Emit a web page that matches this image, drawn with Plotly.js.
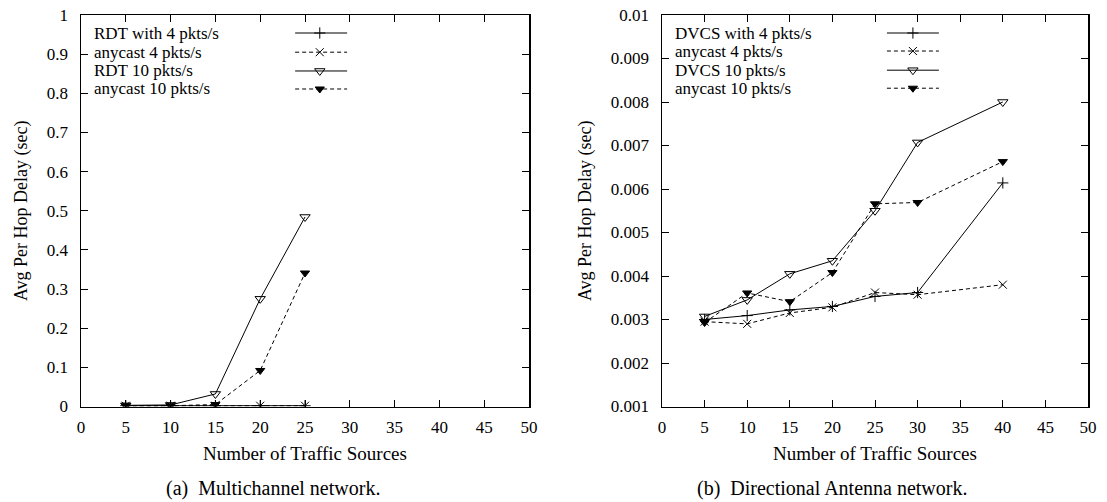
<!DOCTYPE html>
<html>
<head>
<meta charset="utf-8">
<script src="https://cdn.plot.ly/plotly-3.0.1.min.js"></script>
<style>html,body{margin:0;padding:0;background:#fff}#chart{width:1107px;height:502px}</style>
</head>
<body>
<div id="chart"></div>
<script>
// ---- data: (a) Multichannel network ----
var xA = [5, 10, 15, 20, 25];
var rdt4 = [0.002, 0.002, 0.002, 0.002, 0.002];
var anycastA4 = [0.002, 0.002, 0.002, 0.002, 0.002];
var rdt10 = [0.003, 0.004, 0.032, 0.275, 0.484];
var anycastA10 = [0.002, 0.002, 0.005, 0.092, 0.341];
var namesA = ["RDT with 4 pkts/s", "anycast 4 pkts/s", "RDT 10 pkts/s", "anycast 10 pkts/s"];

// ---- data: (b) Directional Antenna network ----
var xB = [5, 10, 15, 20, 25, 30, 40];
var dvcs4 = [0.00300, 0.00309, 0.00322, 0.00330, 0.00353, 0.00362, 0.00614];
var anycastB4 = [0.00295, 0.00290, 0.00315, 0.00328, 0.00362, 0.00357, 0.00380];
var dvcs10 = [0.00307, 0.00345, 0.00405, 0.00435, 0.00550, 0.00707, 0.00800];
var anycastB10 = [0.00293, 0.00361, 0.00341, 0.00408, 0.00566, 0.00569, 0.00663];
var namesB = ["DVCS with 4 pkts/s", "anycast 4 pkts/s", "DVCS 10 pkts/s", "anycast 10 pkts/s"];

var xTicks = [0, 5, 10, 15, 20, 25, 30, 35, 40, 45, 50];
var xTitle = "Number of Traffic Sources";
var yTitle = "Avg Per Hop Delay (sec)";
var captionA = "(a)  Multichannel network.";
var captionB = "(b)  Directional Antenna network.";

// styles
var FONT = "Liberation Serif, Times New Roman, serif";
var styles = [
  {dash: "solid", symbol: "cross-thin-open", size: 8},
  {dash: "4px,3px", symbol: "x-thin-open", size: 8},
  {dash: "solid", symbol: "triangle-down-open", size: 9},
  {dash: "4px,3px", symbol: "triangle-down", size: 8}
];

function series(x, y, st, xa, ya) {
  return {
    x: x, y: y, xaxis: xa, yaxis: ya, type: "scatter", mode: "lines+markers",
    showlegend: false, hoverinfo: "skip",
    line: {color: "#000", width: 1, dash: st.dash},
    marker: {symbol: st.symbol, size: st.size, color: "#000", line: {color: "#000", width: 1}}
  };
}

var data = [];
var ysA = [rdt4, anycastA4, rdt10, anycastA10];
var ysB = [dvcs4, anycastB4, dvcs10, anycastB10];
for (var i = 0; i < 4; i++) data.push(series(xA, ysA[i], styles[i], "x", "y"));
for (var i = 0; i < 4; i++) data.push(series(xB, ysB[i], styles[i], "x2", "y2"));

// gnuplot-style key: text on left, sample on right (drawn in hidden overlay axes 0..1)
var keyRowsA = [0.954, 0.905, 0.857, 0.811];
var keyRowsB = [0.954, 0.908, 0.859, 0.813];
var keySampleA = [0.478, 0.533, 0.594];
var keySampleB = [0.528, 0.589, 0.650];
function keyTraces(rows, smp, xa, ya) {
  for (var i = 0; i < 4; i++) {
    var st = styles[i];
    data.push({x: [smp[0], smp[2]], y: [rows[i], rows[i]], xaxis: xa, yaxis: ya, mode: "lines",
      showlegend: false, hoverinfo: "skip", line: {color: "#000", width: 1, dash: st.dash}});
    data.push({x: [smp[1]], y: [rows[i]], xaxis: xa, yaxis: ya, mode: "markers",
      showlegend: false, hoverinfo: "skip",
      marker: {symbol: st.symbol, size: st.size, color: "#000", line: {color: "#000", width: 1}}});
  }
}
keyTraces(keyRowsA, keySampleA, "x3", "y3");
keyTraces(keyRowsB, keySampleB, "x4", "y4");

var W = 1107, H = 502;
var domXA = [81 / W, 529 / W];
var domXB = [662 / W, 1088 / W];
var domY = [1 - 406.5 / H, 1 - 15 / H];

function xAxis(dom, anchor) {
  return {
    domain: dom, anchor: anchor, range: [0, 50], tickvals: xTicks, ticks: "inside", ticklen: 7,
    tickwidth: 1, tickcolor: "#000", showline: true, linecolor: "#000", linewidth: 1.5, mirror: "ticks",
    showgrid: false, zeroline: false, ticklabelstandoff: 5,
    tickfont: {family: FONT, size: 17, color: "#000"},
    title: {text: xTitle, standoff: 10, font: {family: FONT, size: 19, color: "#000"}}
  };
}
function yAxis(dom, anchor, range, dtick) {
  return {
    domain: dom, anchor: anchor, range: range, dtick: dtick, tick0: 0, ticks: "inside", ticklen: 7,
    tickwidth: 1, tickcolor: "#000", showline: true, linecolor: "#000", linewidth: 1.5, mirror: "ticks",
    showgrid: false, zeroline: false, ticklabelstandoff: 8,
    tickfont: {family: FONT, size: 17, color: "#000"},
    title: {text: yTitle, standoff: 14, font: {family: FONT, size: 18, color: "#000"}}
  };
}
function hidden(overlay, anchor) {
  return {overlaying: overlay, anchor: anchor, range: [0, 1], visible: false, fixedrange: true};
}

var annotations = [];
function keyText(names, rows, xref, yref) {
  for (var i = 0; i < names.length; i++) {
    annotations.push({text: names[i], xref: xref, yref: yref, x: 0.025, y: rows[i],
      xanchor: "left", yanchor: "middle", showarrow: false,
      font: {family: FONT, size: 17, color: "#000"}});
  }
}
keyText(namesA, keyRowsA, "x3", "y3");
keyText(namesB, keyRowsB, "x4", "y4");
annotations.push({text: captionA, xref: "paper", yref: "paper", x: 273 / W, y: 1 - 488 / H,
  xanchor: "center", yanchor: "middle", showarrow: false, font: {family: FONT, size: 20, color: "#000"}});
annotations.push({text: captionB, xref: "paper", yref: "paper", x: 832 / W, y: 1 - 488 / H,
  xanchor: "center", yanchor: "middle", showarrow: false, font: {family: FONT, size: 20, color: "#000"}});

var layout = {
  width: W, height: H, margin: {l: 0, r: 0, t: 0, b: 0},
  paper_bgcolor: "#fff", plot_bgcolor: "rgba(0,0,0,0)", showlegend: false,
  font: {family: FONT, color: "#000"},
  xaxis: xAxis(domXA, "y"), yaxis: yAxis(domY, "x", [0, 1], 0.1),
  xaxis2: xAxis(domXB, "y2"), yaxis2: yAxis(domY, "x2", [0.001, 0.01], 0.001),
  xaxis3: hidden("x", "y3"), yaxis3: hidden("y", "x3"),
  xaxis4: hidden("x2", "y4"), yaxis4: hidden("y2", "x4"),
  annotations: annotations
};

Plotly.newPlot("chart", data, layout, {staticPlot: true, displayModeBar: false});
</script>
</body>
</html>
